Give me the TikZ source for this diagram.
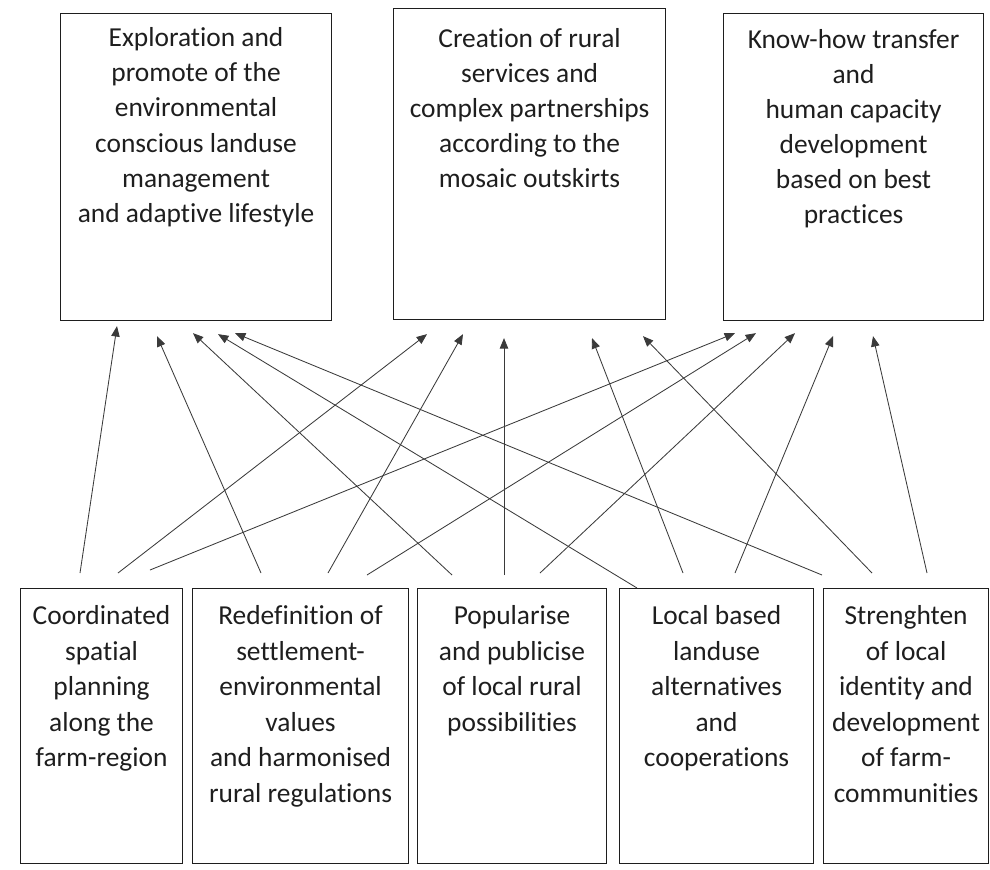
\documentclass[tikz,border=0pt]{standalone}
\usepackage{fontspec}
\setmainfont{Carlito}[Ligatures=NoCommon]
\usepackage{tikz}
\usetikzlibrary{arrows.meta,positioning,calc}
\definecolor{ink}{HTML}{1E1E1E}
\definecolor{wire}{HTML}{3A3A3A}
\newlength\px
\setlength\px{0.025cm}
% top aligned text block of a fixed size (width, height in px)
\newcommand{\inbox}[4]{\parbox[c][#2\px][t]{#1\px}{\centering\vspace*{#3}#4}}

\begin{document}
\begin{tikzpicture}[
  x=0.025cm,y=-0.025cm,
  goal/.style={draw=ink,line width=0.8pt,anchor=north west,inner sep=0pt,
    text=ink,font=\fontsize{19.5}{25}\selectfont},
  measure/.style={draw=ink,line width=0.8pt,anchor=north west,inner sep=0pt,
    text=ink,font=\fontsize{19.5}{25.3}\selectfont},
  link/.style={-{Triangle[length=2.6mm,width=2.1mm]},draw=wire,line width=0.6pt}
]
\useasboundingbox (0,0) rectangle (990,869);

% aims
\node[goal] (explore) at (60,13) {\inbox{271}{307}{10pt}
  {Exploration and\\promote of the\\environmental\\conscious landuse\\management\\and adaptive lifestyle}};
\node[goal] (services) at (393,8) {\inbox{272}{311}{14pt}
  {Creation of rural\\services and\\complex partnerships\\according to the\\mosaic outskirts}};
\node[goal] (knowhow) at (723,13) {\inbox{260}{307}{11pt}
  {Know-how transfer\\and\\human capacity\\development\\based on best\\practices}};

% measures
\node[measure] (spatial) at (20,588) {\inbox{162}{275}{12pt}
  {Coordinated\\spatial\\planning\\along the\\farm-region}};
\node[measure] (redef) at (192,588) {\inbox{216}{275}{12pt}
  {Redefinition of\\settlement-\\environmental\\values\\and harmonised\\rural regulations}};
\node[measure] (publicise) at (417,588) {\inbox{189}{275}{12pt}
  {Popularise\\and publicise\\of local rural\\possibilities}};
\node[measure] (localuse) at (619,588) {\inbox{194}{275}{12pt}
  {Local based\\landuse\\alternatives\\and\\cooperations}};
\node[measure] (identity) at (823,588) {\inbox{165}{275}{12pt}
  {Strenghten\\of local\\identity and\\development\\of farm-\\communities}};

% every measure feeds every aim
\foreach \src/\sx/\sy/\dst/\dx/\dy in {
  spatial/60/-15/explore/57/5, spatial/98/-15/services/34/14, spatial/130/-18/knowhow/12/12,
  redef/69/-15/explore/97/15, redef/136/-15/services/70/14, redef/175/-13/knowhow/33/12,
  publicise/35/-13/explore/133/12, publicise/87/-13/services/111/18, publicise/123/-15/knowhow/72/12,
  localuse/18/0/explore/158/13, localuse/64/-15/services/199/18, localuse/116/-15/knowhow/110/15,
  identity/-1/-13/explore/175/12, identity/49/-15/services/250/16, identity/104/-15/knowhow/150/15}
  \draw[link] ($(\src.north west)+(\sx,\sy)$) -- ($(\dst.south west)+(\dx,\dy)$);
\end{tikzpicture}
\end{document}
